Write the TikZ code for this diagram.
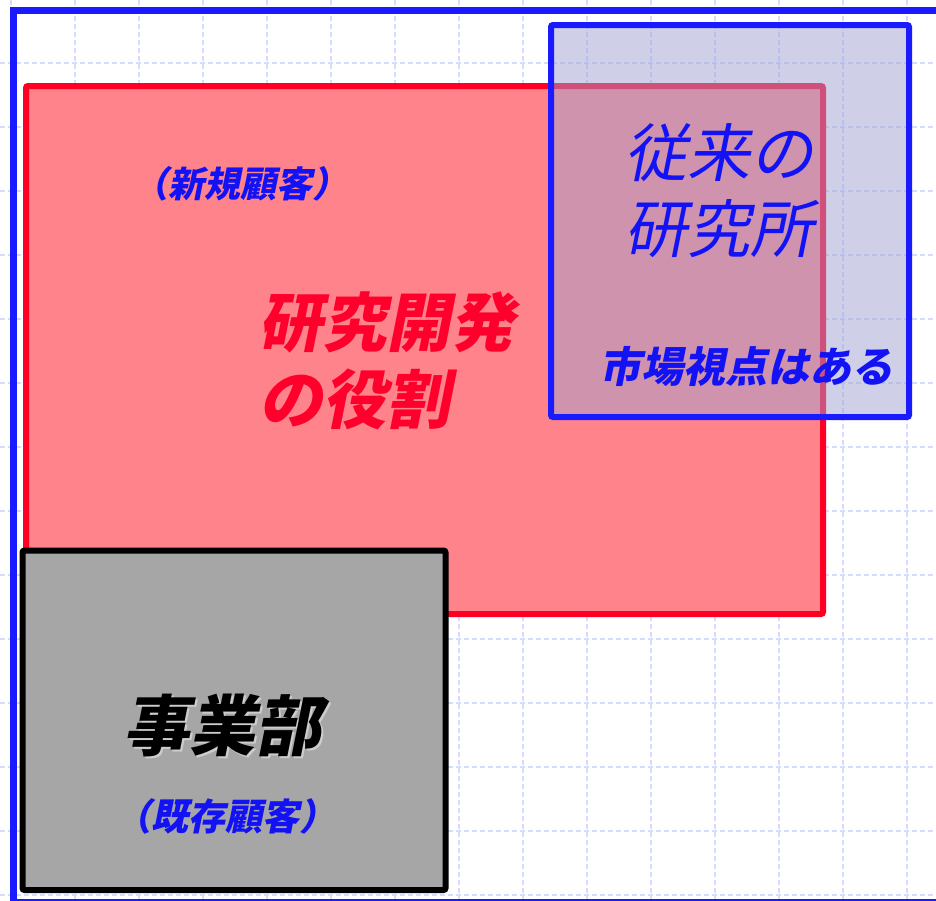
\documentclass[tikz,border=0pt]{standalone}
\usepackage{fontspec}
\newfontfamily\jp{Noto Sans CJK JP}[FakeSlant=0.2]
\usetikzlibrary{calc}
\definecolor{gridblue}{RGB}{212,222,252}
\definecolor{frameblue}{RGB}{26,26,255}
\definecolor{txtblue}{RGB}{18,18,245}
\definecolor{redline}{RGB}{255,0,36}
\definecolor{pinkfill}{RGB}{255,131,138}
\definecolor{labfill}{RGB}{160,163,211}
\definecolor{redtxt}{RGB}{255,0,45}
\definecolor{grayfill}{RGB}{166,166,166}
\definecolor{glow}{RGB}{205,205,205}
\tikzset{
  gridline/.style={draw=gridblue, line width=1.5pt, dash pattern=on 5pt off 3pt},
  boxline/.style={line width=6pt, rounded corners=2pt},
  jtext/.style={inner sep=0pt, font=\jp},
}
\newcommand{\glowtext}[1]{%
  \rlap{\hspace{2pt}\raisebox{-2pt}{\color{glow}#1}}%
  #1}
\begin{document}
\begin{tikzpicture}[x=1pt,y=-1pt]
\useasboundingbox (0,0) rectangle (936,900);
\clip (0,0) rectangle (936,900);
\fill[white] (0,0) rectangle (936,900);
% grid
\foreach \i in {0,...,14} {
  \draw[gridline] ({11+64*\i},0) -- ({11+64*\i},900);
}
\foreach \j in {0,...,14} {
  \draw[gridline] (0,{-1+64*\j}) -- (936,{-1+64*\j});
}
% outer frame
\draw[draw=frameblue, line width=7pt] (13,10) rectangle (941,902);
% red box
\draw[boxline, draw=redline, fill=pinkfill] (26,86) rectangle (823,614);
% research lab box (translucent)
\fill[labfill, fill opacity=0.5] (551,25) rectangle (909,417);
\draw[boxline, draw=frameblue] (551,25) rectangle (909,417);
% business division box
\draw[boxline, draw=black, fill=grayfill] (22.5,550.5) rectangle (445.5,890);
% texts
\node[jtext, text=txtblue, font=\jp\bfseries\fontsize{36}{42}\selectfont] (newcust) at (240,184) {（新規顧客）};
\node[jtext, text=redtxt, anchor=west, align=left, font=\jp\bfseries\fontsize{64}{77}\selectfont] (rdrole) at (258,361) {研究開発\\の役割};
\node[jtext, text=txtblue, anchor=west, align=left, font=\jp\fontsize{63}{76}\selectfont] (oldlab) at (624,191) {従来の\\研究所};
\node[jtext, text=txtblue, font=\jp\bfseries\fontsize{42}{48}\selectfont] (market) at (746,367) {市場視点はある};
\node[jtext, text=black, font=\jp\bfseries\fontsize{66}{72}\selectfont] (biz) at (222,726) {\glowtext{事業部}};
\node[jtext, text=txtblue, font=\jp\bfseries\fontsize{37}{42}\selectfont] (oldcust) at (225,816) {（既存顧客）};
\end{tikzpicture}
\end{document}
